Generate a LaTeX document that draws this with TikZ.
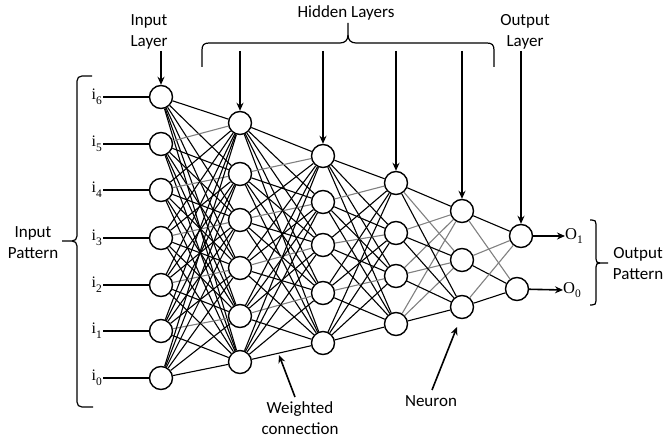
\documentclass[tikz,border=0pt]{standalone}
\usepackage{fontspec}
\setmainfont{Carlito}
\newfontfamily\tnr{Liberation Serif}
\usetikzlibrary{arrows.meta}
\newcommand\ilab[1]{{\tnr\fontsize{16}{16}\selectfont i\raisebox{-0.3em}{\fontsize{11.5}{11.5}\selectfont #1}}}
\newcommand\olab[1]{{\tnr\fontsize{16.5}{16.5}\selectfont O\raisebox{-0.25em}{\fontsize{11.5}{11.5}\selectfont #1}}}
\colorlet{gcol}{black!50}
\newcommand\fullconn[4]{%
  \foreach \s in {0,...,#2}{\foreach \t in {0,...,#4}{%
    \pgfmathtruncatemacro\g{(\t==\s-1)&&(\s>=1)&&(\s<=#2-1)}%
    \ifnum\g=1 \def\cc{gcol}\else\def\cc{black}\fi
    \draw[conn,draw=\cc] (#1\s) -- (#3\t);
  }}}
\begin{document}
\begin{tikzpicture}[x=1pt,y=-1pt,
  neuron/.style={circle,draw,line width=1.4pt,minimum size=23pt,inner sep=0pt,fill=white},
  conn/.style={line width=1.1pt},
  arr/.style={line width=1.6pt,-{Stealth[length=8pt,width=7pt]}},
  lbl/.style={font=\fontsize{17}{21}\selectfont,align=center,inner sep=0pt},
  brace/.style={line width=1.2pt,line join=round}]
\useasboundingbox (0,0) rectangle (665,441);
% input layer
\foreach \i/\y/\n in {0/97/6,1/144/5,2/190/4,3/238/3,4/285/2,5/331/1,6/378/0}{
  \node[neuron] (a\i) at (161,\y) {};
  \node[anchor=east,inner sep=1pt] (l\i) at (103,\y) {\ilab{\n}};
  \draw[conn] (l\i.east) -- (a\i.west);
}
\foreach \i/\y in {0/123,1/174,2/220,3/268,4/316,5/362}{\node[neuron] (b\i) at (240,\y) {};}
\foreach \i/\y in {0/156,1/202,2/245,3/293,4/343}{\node[neuron] (c\i) at (323,\y) {};}
\foreach \i/\y in {0/183,1/233,2/276,3/324}{\node[neuron] (d\i) at (396,\y) {};}
\foreach \i/\y in {0/211,1/260,2/307}{\node[neuron] (e\i) at (462,\y) {};}
\node[neuron] (f0) at (521,236) {};
\node[neuron] (f1) at (517,289) {};
% connections
\fullconn{a}{6}{b}{5}
\fullconn{b}{5}{c}{4}
\fullconn{c}{4}{d}{3}
\foreach \s/\t/\k in {0/0/black,1/0/gcol,2/0/gcol,3/0/gcol,0/1/gcol,1/1/black,2/1/gcol,3/1/gcol,0/2/black,1/2/black,2/2/black,3/2/black}{
  \draw[conn,draw=\k] (d\s) -- (e\t);}
\foreach \s/\t/\k in {0/0/black,0/1/gcol,1/0/gcol,1/1/black,2/0/gcol,2/1/black}{
  \draw[conn,draw=\k] (e\s) -- (f\t);}
% labels top
\node[lbl] (tin) at (149,32) {Input\\Layer};
\coordinate (ain) at (161,51);
\draw[arr] (ain) -- (a0);
\node[lbl] (thid) at (346,13) {Hidden Layers};
\draw[brace] (202,67) -- (202,50) .. controls (202,45) and (204,43) .. (209,43) -- (340,43)
  .. controls (345,43) and (348,40) .. (348,35) -- (348,23);
\draw[brace] (348,35) .. controls (348,40) and (351,43) .. (356,43) -- (487,43)
  .. controls (492,43) and (494,45) .. (494,50) -- (494,67);
\foreach \n/\x in {b0/240,c0/323,d0/396,e0/462}{
  \coordinate (h\n) at (\x,51);
  \draw[arr] (h\n) -- (\n);}
\node[lbl] (tout) at (525,32) {Output\\Layer};
\coordinate (aout) at (521,51);
\draw[arr] (aout) -- (f0);
% outputs
\node[anchor=west,inner sep=0pt] (o1) at (565,236) {\olab{1}};
\node[anchor=west,inner sep=0pt] (o0) at (563,290) {\olab{0}};
\draw[arr] (f0) -- (o1.west);
\draw[arr] (f1) -- (o0.west);
\draw[brace] (590,220) -- (592,220) .. controls (595,220) and (596,221) .. (596,224) -- (596,259)
  .. controls (596,262) and (597,263) .. (600,263) -- (608,263);
\draw[brace] (596,267) .. controls (596,264) and (597,263) .. (600,263);
\draw[brace] (596,267) -- (596,301) .. controls (596,304) and (595,305) .. (592,305) -- (590,305);
\node[lbl] (tpat) at (638,264) {Output\\Pattern};
% input brace
\draw[brace] (92,76) -- (82,76) .. controls (79,76) and (77,78) .. (77,81) -- (77,236)
  .. controls (77,239) and (75,241) .. (72,241) -- (62,241);
\draw[brace] (72,241) .. controls (75,241) and (77,243) .. (77,246) -- (77,402)
  .. controls (77,405) and (79,407) .. (82,407) -- (93,407);
\node[lbl] (tinp) at (33,243) {Input\\Pattern};
% bottom labels
\node[lbl] (tw) at (300,418) {Weighted\\connection};
\coordinate (ws) at (295,397);
\coordinate (wt) at (279,355);
\draw[arr] (ws) -- (wt);
\node[lbl] (tn) at (431,401) {Neuron};
\coordinate (ns) at (432,390);
\coordinate (nt) at (457,327);
\draw[arr] (ns) -- (nt);
\end{tikzpicture}
\end{document}
